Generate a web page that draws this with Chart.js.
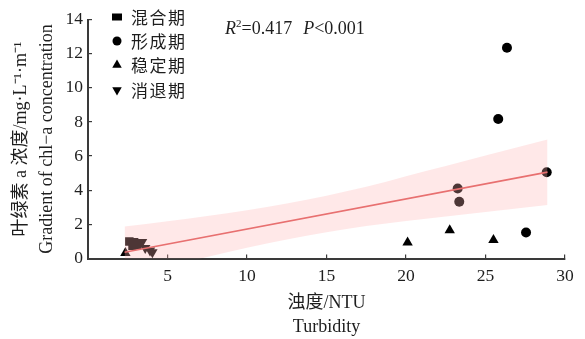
<!DOCTYPE html>
<html>
<head>
<meta charset="utf-8">
<script src="https://cdn.jsdelivr.net/npm/chart.js@4/dist/chart.umd.min.js"></script>
<style>
  html, body { margin: 0; padding: 0; background: #fff; }
  #wrap { width: 585px; height: 339px; }
</style>
</head>
<body>
<div id="wrap"><canvas id="c" width="585" height="339"></canvas></div>
<script>
// Stage names (legend order)
const stageNames = ['混合期', '形成期', '稳定期', '消退期'];

// Turbidity (NTU) and chl-a gradient for each stage
const mixX = [2.6, 2.9, 3.1, 2.8];
const mixY = [1.0, 0.95, 0.8, 0.75];
const formX = [26.35, 25.8, 28.85, 23.25, 23.35, 27.55];
const formY = [12.35, 8.17, 5.05, 4.1, 3.32, 1.52];
const stableX = [22.75, 20.1, 25.5, 2.35];
const stableY = [1.65, 0.93, 1.08, 0.32];
const declineX = [3.4, 3.6, 3.9, 4.05];
const declineY = [0.97, 0.62, 0.47, 0.37];

// Linear fit and its confidence band
const fitX = [2.3, 28.9];
const fitY = [0.37, 5.06];
const bandX = [2.3, 5, 7.5, 10, 12.5, 15, 17.5, 20, 22.5, 25, 28.9];
const bandUpper = [1.87, 2.18, 2.49, 2.83, 3.22, 3.68, 4.2, 4.82, 5.42, 6.04, 6.97];
const bandLower = [-1.13, -0.48, 0.09, 0.63, 1.12, 1.54, 1.9, 2.19, 2.46, 2.72, 3.13];

// Axis ticks
const xTicks = [0, 5, 10, 15, 20, 25, 30];
const yTicks = [0, 2, 4, 6, 8, 10, 12, 14];

const statsText = { r2: '0.417', p: '0.001' };

const pts = (xs, ys) => xs.map((x, i) => ({ x, y: ys[i] }));

const SERIF = '"Liberation Serif", "Times New Roman", "Noto Sans CJK SC", serif';
const MIXED = '"Liberation Serif", "Noto Sans CJK SC", serif';
const INK = '#1e1e1e';

const markerStyles = [
  { pointStyle: 'rect', radius: 6, rotation: 0 },
  { pointStyle: 'circle', radius: 5, rotation: 0 },
  { pointStyle: 'triangle', radius: 6, rotation: 0 },
  { pointStyle: 'triangle', radius: 6, rotation: 180 }
];

function scatterSet(label, data, st) {
  return {
    label, data,
    pointStyle: st.pointStyle,
    pointRadius: st.radius,
    pointRotation: st.rotation,
    pointBackgroundColor: '#000',
    pointBorderColor: '#000',
    pointBorderWidth: 0,
    showLine: false,
    order: 3
  };
}

// Legend drawn inside the plot area, top-left
const stageLegend = {
  id: 'stageLegend',
  afterDraw(chart) {
    const ctx = chart.ctx;
    const rows = [17, 41, 65, 90];
    ctx.save();
    stageNames.forEach((name, i) => {
      const st = markerStyles[i];
      ctx.fillStyle = '#000';
      ctx.strokeStyle = '#000';
      ctx.lineWidth = 0;
      if (st.pointStyle === 'rect') {
        ctx.fillRect(112, rows[i] - 3.5, 10, 7);
      } else {
        Chart.helpers.drawPoint(ctx, {
          pointStyle: st.pointStyle,
          radius: st.pointStyle === 'circle' ? 4.5 : 5.5,
          rotation: st.rotation,
          borderWidth: 0
        }, 117, rows[i]);
      }
      ctx.fillStyle = INK;
      ctx.font = '17px "Noto Sans CJK SC", sans-serif';
      ctx.textBaseline = 'middle';
      ctx.textAlign = 'left';
      ctx.letterSpacing = '1.5px';
      ctx.fillText(name, 131, rows[i] + 1);
    });
    ctx.restore();

    // Fit statistics
    ctx.save();
    ctx.fillStyle = INK;
    ctx.textBaseline = 'alphabetic';
    let x = 225;
    const base = 34;
    const seg = (t, font, dy = 0) => {
      ctx.font = font;
      ctx.fillText(t, x, base + dy);
      x += ctx.measureText(t).width;
    };
    seg('R', 'italic 18px ' + SERIF);
    seg('2', '11px ' + SERIF, -7);
    seg('=' + statsText.r2, '18px ' + SERIF);
    x += 11;
    seg('P', 'italic 18px ' + SERIF);
    seg('<' + statsText.p, '18px ' + SERIF);
    ctx.restore();
  }
};

new Chart(document.getElementById('c'), {
  type: 'scatter',
  data: {
    datasets: [
      scatterSet(stageNames[0], pts(mixX, mixY), markerStyles[0]),
      scatterSet(stageNames[1], pts(formX, formY), markerStyles[1]),
      scatterSet(stageNames[2], pts(stableX, stableY), markerStyles[2]),
      scatterSet(stageNames[3], pts(declineX, declineY), markerStyles[3]),
      {
        label: 'upper',
        data: pts(bandX, bandUpper),
        showLine: true,
        pointRadius: 0,
        borderWidth: 0,
        borderColor: 'rgba(0,0,0,0)',
        backgroundColor: 'rgba(255,180,180,0.3)',
        fill: '+1',
        cubicInterpolationMode: 'monotone',
        order: 2
      },
      {
        label: 'lower',
        data: pts(bandX, bandLower),
        showLine: true,
        pointRadius: 0,
        borderWidth: 0,
        borderColor: 'rgba(0,0,0,0)',
        fill: false,
        cubicInterpolationMode: 'monotone',
        order: 2
      },
      {
        label: 'fit',
        data: pts(fitX, fitY),
        showLine: true,
        pointRadius: 0,
        borderWidth: 1.6,
        borderColor: 'rgb(232,112,112)',
        fill: false,
        order: 1
      }
    ]
  },
  options: {
    responsive: false,
    animation: false,
    devicePixelRatio: 1,
    layout: { padding: { top: 8, right: 20, left: 0, bottom: 0 } },
    plugins: {
      legend: { display: false },
      tooltip: { enabled: false }
    },
    scales: {
      x: {
        type: 'linear',
        min: 0, max: 30,
        afterBuildTicks: s => { s.ticks = xTicks.map(v => ({ value: v })); },
        afterFit: s => { s.height = 80.5; },
        border: { display: true, color: '#3a3a3a', width: 2 },
        grid: { display: true, drawOnChartArea: false, drawTicks: true, tickLength: -4, color: '#3a3a3a', lineWidth: 1.2 },
        ticks: {
          color: INK,
          font: { family: SERIF, size: 17.5 },
          padding: 11,
          maxRotation: 0,
          callback: v => (v === 0 ? '' : String(v))
        },
        title: {
          display: true,
          text: ['浊度/NTU', 'Turbidity'],
          color: INK,
          font: { family: MIXED, size: 18, lineHeight: 1.33 },
          padding: { top: 0, bottom: 0 }
        }
      },
      y: {
        type: 'linear',
        min: 0, max: 14,
        afterBuildTicks: s => { s.ticks = yTicks.map(v => ({ value: v })); },
        afterFit: s => { s.width = 88; },
        border: { display: true, color: '#3a3a3a', width: 2 },
        grid: { display: true, drawOnChartArea: false, drawTicks: true, tickLength: -4, color: '#3a3a3a', lineWidth: 1.2 },
        ticks: {
          color: INK,
          font: { family: SERIF, size: 17.5 },
          padding: 9
        },
        title: {
          display: true,
          text: ['叶绿素 a 浓度/mg·L⁻¹·m⁻¹', 'Gradient of chl−a concentration'],
          color: INK,
          font: { family: MIXED, size: 18, lineHeight: 1.4 },
          padding: { top: 9, bottom: 0 }
        }
      }
    }
  },
  plugins: [stageLegend]
});
</script>
</body>
</html>
